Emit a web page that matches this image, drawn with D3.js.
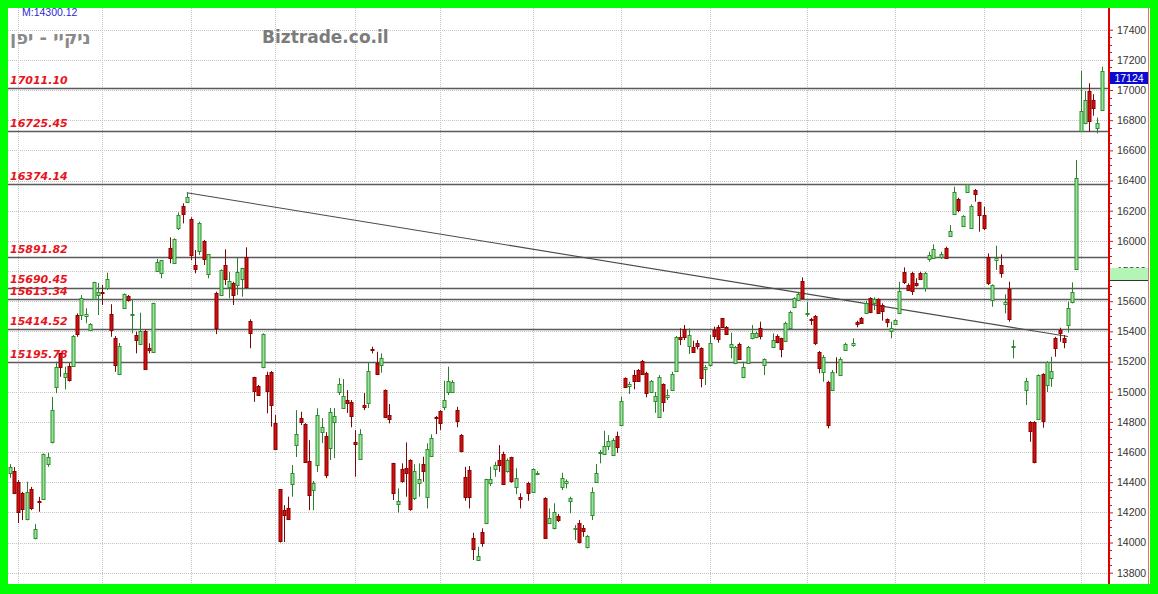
<!DOCTYPE html>
<html><head><meta charset="utf-8">
<script src="https://cdn.jsdelivr.net/npm/d3@7/dist/d3.min.js"></script>
<style>html,body{margin:0;padding:0;background:#00ff00;overflow:hidden}</style>
</head><body><svg id="c" width="1158" height="594"></svg>
<script>
const opens = [14462,14474,14403,14328,14153,14354,14027,14275,14286,14523,
14664,15029,15254,15095,15173,15173,15508,15508,15504,15409,
15612,15640,15663,15690,15516,15354,15116,15557,15634,15508,
15376,15316,15404,15288,15265,15802,15789,15870,15950,15855,
16083,16231,16260,16145,15838,15935,16001,15780,15912,15656,
15641,15840,15692,15722,15707,15749,15895,15471,15095,15040,
15162,15110,15132,14790,14352,14215,14231,14388,14647,14823,
14785,14540,14348,14514,14731,14706,14624,14801,14998,14894,
14945,14933,14664,14552,14910,14927,15283,15192,15177,15011,
14845,14525,14255,14487,14492,14547,14293,14396,14520,14300,
14573,14834,14872,14896,14998,14998,14878,14712,14436,14480,
14028,13884,14067,14127,14392,14485,14547,14587,14476,14565,
14370,14300,14288,14396,14336,14452,14458,14293,14131,14094,
14176,14366,14392,14277,14087,14127,14094,13968,14182,14403,
14591,14585,14642,14580,14708,14779,15089,15038,15110,15144,
15205,15126,14998,14940,14834,15051,14963,15011,15139,15364,
15413,15303,15294,15321,15288,15150,15177,15409,15431,15486,
15431,15298,15192,15318,15095,15192,15354,15364,15420,15177,
15216,15294,15371,15354,15338,15420,15559,15608,15736,15515,
15484,15504,15265,15132,15066,15011,15166,15110,15276,null,
15309,15460,15486,15524,15619,15590,15612,15575,15480,15400,
15447,15524,15795,15707,15789,15718,15789,15687,15880,15888,
15948,15895,15950,16034,16176,16277,16100,16326,16087,16337,
16256,16171,15895,15608,15870,15840,15579,15681,15295,15301,
14937,15011,14801,14801,14819,15115,15044,15089,15354,15409,
15358,15442,15593,15813,16728,16779,16994,16934,16750,16868];

const highs = [14520,14500,14414,14336,14403,14369,14122,14303,14591,14595,
14965,15199,15258,15166,15189,15376,15519,15641,15553,15454,
15729,15721,15707,15789,15580,15369,15323,15652,15641,15608,
15398,15524,15409,15321,15590,15880,15873,15870,16023,16017,
16189,16249,16319,16156,15939,16127,16006,15913,15912,15663,
15811,15944,15795,15729,15891,15822,15957,15480,15099,15045,
15387,15132,15137,14845,14354,14248,14304,14514,14878,14867,
14792,14679,14408,14890,14825,14732,14892,14892,15090,15084,
15011,14945,14746,14752,14991,15197,15298,15265,15254,15015,
14918,14529,14359,14525,14664,14552,14520,14525,14569,14658,
14717,14839,14878,15073,15166,15077,14900,14719,14502,14507,
14065,13972,14094,14423,14502,14535,14646,14602,14558,14569,
14492,14326,14288,14403,14492,14474,14458,14300,14226,14260,
14189,14463,14419,14304,14116,14149,14116,14050,14366,14520,
14613,14741,14712,14691,14735,14967,15095,15066,15144,15150,
15210,15132,15077,14998,15110,15055,15016,15132,15369,15420,
15442,15420,15338,15342,15294,15177,15376,15431,15442,15489,
15435,15391,15303,15325,15199,15303,15442,15398,15464,15221,
15216,15387,15380,15358,15464,15537,15626,15663,15758,15597,
15490,15508,15270,15243,15073,15144,15228,15228,15325,null,
15354,15471,15495,15603,15626,15626,15619,15586,15486,15464,
15480,15729,15824,15718,15795,15752,15795,15795,15928,15977,
15948,15928,15961,16105,16359,16286,16171,16375,16242,16344,
16260,16226,15917,15712,15968,15911,15646,15729,15342,15301,
14937,15092,14805,14805,15115,15122,15203,15232,15364,15424,
15376,15597,15725,16536,17126,16994,17045,16972,16817,17155];

const lows = [14429,14321,14129,14149,14147,14215,14021,14204,14282,14502,
14657,14990,15099,15015,15067,15166,15364,15475,15454,15404,
15608,15508,15575,15674,15364,15132,15110,15553,15597,15387,
15254,15309,15144,15254,15261,15793,15752,15870,15851,15851,
16072,16116,16257,15873,15785,15906,15840,15752,15912,15382,
15634,15707,15619,15575,15641,15630,15685,15288,14933,14975,
15155,14857,14768,14615,14000,14003,14149,14304,14567,14779,
14533,14215,14215,14467,14659,14427,14547,14560,14978,14892,
14859,14764,14436,14547,14878,14892,15254,15110,15126,14825,
14790,14282,14198,14396,14304,14211,14282,14304,14403,14226,
14569,14719,14746,14878,14978,14993,14764,14598,14277,14226,
13884,13879,13972,14122,14374,14436,14469,14381,14463,14396,
14321,14226,14288,14277,14330,14447,14458,14030,14122,14087,
14136,14348,14359,14194,14017,13994,14038,13961,14149,14401,
14525,14580,14613,14575,14595,14774,15029,14985,15016,15066,
15110,14963,14996,14860,14830,14867,14945,15006,15132,15309,
15342,15250,15258,15281,15029,15044,15166,15347,15325,15429,
15376,15221,15183,15214,15089,15188,15347,15354,15347,15110,
15216,15288,15321,15228,15331,15413,15553,15603,15614,15497,
15442,15309,15122,15066,14757,15006,15122,15104,15271,null,
15298,15427,15449,15520,15520,15541,15520,15471,15427,15354,
15442,15515,15714,15669,15641,15696,15740,15663,15862,15884,
15948,15880,15884,16028,16171,16189,16094,16322,16083,16260,
16061,16072,15707,15563,15807,15756,15520,15464,15221,15301,
14937,14912,14668,14525,14812,14761,14998,15033,15232,15331,
15288,15393,15586,15807,16724,16773,16724,16830,16713,16861];

const closes = [14502,14328,14202,14225,14337,14228,14087,14270,14589,14567,
14876,15166,15164,15127,15076,15366,15380,15619,15515,15450,
15727,15662,15655,15750,15408,15177,15300,15650,15611,15515,
15342,15403,15153,15278,15587,15859,15870,15870,15889,16010,
16174,16179,16291,15909,15814,16121,15880,15912,15912,15422,
15809,15747,15734,15642,15796,15821,15696,15392,15006,14980,
15384,15007,14915,14619,14008,14180,14155,14462,14718,14800,
14535,14313,14393,14843,14767,14450,14866,14838,15052,14971,
14923,14841,14652,14721,14898,15135,15274,15120,15224,14830,
14816,14328,14278,14411,14463,14224,14475,14423,14477,14623,
14696,14828,14792,14946,15072,15064,14809,14607,14300,14300,
13960,13910,13997,14418,14418,14516,14512,14389,14546,14405,
14429,14288,14288,14330,14485,14458,14458,14033,14163,14200,
14150,14425,14406,14298,14097,14006,14075,14042,14338,14462,
14603,14637,14671,14682,14632,14936,15033,15051,15073,15073,
15117,14993,15071,14971,15095,14933,14978,15117,15364,15347,
15364,15374,15265,15303,15089,15165,15326,15369,15347,15431,
15382,15316,15298,15218,15161,15298,15391,15387,15371,15216,
15216,15343,15329,15284,15458,15529,15619,15646,15621,15523,
15475,15320,15160,15232,14778,15131,15161,15214,15315,null,
15323,15450,15454,15590,15530,15613,15521,15535,15460,15425,
15477,15669,15728,15676,15669,15705,15749,15789,15909,15948,
15948,15912,15889,16068,16321,16206,16167,16374,16230,16311,
16174,16082,15718,15709,15884,15784,15596,15479,15301,15301,
14937,15074,14738,14533,15111,14804,15196,15139,15292,15389,
15330,15554,15658,16414,16862,16937,16792,16880,16781,17124];

// first trading day of each month (candle index) – vertical grid
const monthStarts = [2,22,43,63,82,102,124,145,166,189,210,231,254];
// horizontal support / resistance levels
const levelValues = [17011.10,16725.45,16374.14,15891.82,15690.45,15613.34,15414.52,15195.78];
const levelLabels = ["17011.10","16725.45","16374.14","15891.82","15690.45","15613.34","15414.52","15195.78"];
// y axis tick labels
const yTicks = [13800,14000,14200,14400,14600,14800,15000,15200,15400,15600,15800,16000,16200,16400,16600,16800,17000,17200,17400];
// trend line (candle index, value)
const trendIdx = [42, 251];
const trendVal = [16319, 15366];
const lastPrice = 17124;
const markerValue = 15820;
const titleText = "ניקיי - יפן";
const siteText = "Biztrade.co.il";
const minText = "M:14300.12";

const W = 1158, H = 594;
const plotL = 8, plotR = 1108, plotT = 8, plotB = 583;
const svg = d3.select("#c");

const x = d3.scaleLinear().domain([0, opens.length - 1]).range([9.7, 1101.7]);
const y = d3.scaleLinear().domain([13800, 17400]).range([572.7, 29.7]);

svg.append("rect").attr("x", 8).attr("y", 8).attr("width", 1142).attr("height", 576).attr("fill", "#fff");

// grid
const g = svg.append("g");
g.selectAll("line.h").data(yTicks).join("line")
  .attr("x1", plotL).attr("x2", plotR)
  .attr("y1", d => Math.round(y(d)) + 0.5).attr("y2", d => Math.round(y(d)) + 0.5)
  .attr("stroke", "#c4c4c4").attr("stroke-width", 1).attr("stroke-dasharray", "1,1");
g.selectAll("line.v").data(monthStarts).join("line")
  .attr("x1", d => Math.round(x(d)) + 0.5).attr("x2", d => Math.round(x(d)) + 0.5)
  .attr("y1", plotT).attr("y2", plotB)
  .attr("stroke", "#c4c4c4").attr("stroke-width", 1).attr("stroke-dasharray", "1,1");

// level lines
svg.append("g").selectAll("line").data(levelValues).join("line")
  .attr("x1", plotL).attr("x2", plotR)
  .attr("y1", d => Math.round(y(d)) + 0.5).attr("y2", d => Math.round(y(d)) + 0.5)
  .attr("stroke", "#5a5a5a").attr("stroke-width", 1.4);

// trend line
svg.append("line")
  .attr("x1", x(trendIdx[0])).attr("y1", y(trendVal[0]))
  .attr("x2", x(trendIdx[1])).attr("y2", y(trendVal[1]))
  .attr("stroke", "#4a4a4a").attr("stroke-width", 1.1);

// candles
const idx = d3.range(opens.length).filter(i => opens[i] !== null);
const cg = svg.append("g");
idx.forEach(i => {
  const o = opens[i], h = highs[i], l = lows[i], c = closes[i];
  const up = c >= o;
  const cx = Math.round(x(i));
  cg.append("line")
    .attr("x1", cx + 0.5).attr("x2", cx + 0.5)
    .attr("y1", y(h)).attr("y2", y(l))
    .attr("stroke", up ? "#2e7d2e" : "#7a0a0a").attr("stroke-width", 1);
  const top = y(Math.max(o, c)), bot = y(Math.min(o, c));
  cg.append("rect")
    .attr("x", cx - 1).attr("width", 3)
    .attr("y", Math.round(top) + 0.5).attr("height", Math.max(0, Math.round(bot) - Math.round(top)))
    .attr("fill", up ? "#98e698" : "#d01010")
    .attr("stroke", up ? "#2e8b2e" : "#8b0000").attr("stroke-width", 1);
});

// level labels
svg.append("g").selectAll("text").data(levelValues).join("text")
  .attr("x", 10).attr("y", d => y(d) - 4.5)
  .attr("fill", "#e8141c")
  .attr("font-family", "DejaVu Sans, Verdana, sans-serif")
  .attr("font-weight", "bold").attr("font-style", "italic").attr("font-size", "11px")
  .text((d, i) => levelLabels[i]);

// titles
svg.append("text").attr("x", 10).attr("y", 44).attr("text-anchor", "start")
  .attr("fill", "#8a8a8a").attr("font-family", "DejaVu Sans, sans-serif")
  .attr("font-weight", "bold").attr("font-size", "18px").text(titleText);
svg.append("text").attr("x", 262).attr("y", 43)
  .attr("fill", "#7c7c7c").attr("font-family", "DejaVu Sans, Verdana, sans-serif")
  .attr("font-weight", "bold").attr("font-size", "17px").text(siteText);
svg.append("text").attr("x", 22).attr("y", 16)
  .attr("fill", "#2a2acc").attr("font-family", "Liberation Sans, Arial, sans-serif")
  .attr("font-size", "10.5px").text(minText);

// y axis
const axis = d3.axisRight(y).tickValues(yTicks).tickSize(4).tickPadding(4).tickFormat(d3.format("d"));
const ag = svg.append("g").attr("transform", "translate(1109,0)").call(axis);
ag.select(".domain").remove();
ag.selectAll(".tick line").attr("stroke", "#e01010");
ag.selectAll(".tick text").attr("fill", "#333").attr("font-family", "Liberation Sans, Arial, sans-serif").attr("font-size", "10.5px");
// minor ticks
const minor = d3.range(13800, 17450, 50).filter(v => v % 200 !== 0);
svg.append("g").selectAll("line").data(minor).join("line")
  .attr("x1", 1109).attr("x2", 1112)
  .attr("y1", d => Math.round(y(d)) + 0.5).attr("y2", d => Math.round(y(d)) + 0.5)
  .attr("stroke", "#e01010");
svg.append("line").attr("x1", 1109).attr("x2", 1109).attr("y1", 8).attr("y2", 584)
  .attr("stroke", "#e00000").attr("stroke-width", 2);
svg.append("line").attr("x1", 1148.5).attr("x2", 1148.5).attr("y1", 8).attr("y2", 584)
  .attr("stroke", "#e07070").attr("stroke-width", 1);

// marker box (light green)
svg.append("rect").attr("x", 1110).attr("y", Math.round(y(markerValue)))
  .attr("width", 38).attr("height", 12).attr("fill", "#b4f4b4");
svg.append("line").attr("x1", 1110).attr("x2", 1148)
  .attr("y1", Math.round(y(markerValue)) + 12.5).attr("y2", Math.round(y(markerValue)) + 12.5)
  .attr("stroke", "#333").attr("stroke-width", 1);

// last price box
svg.append("rect").attr("x", 1110).attr("y", Math.round(y(lastPrice)) + 1)
  .attr("width", 38).attr("height", 12).attr("fill", "#0a0ad0");
svg.append("text").attr("x", 1129).attr("y", Math.round(y(lastPrice)) + 11)
  .attr("text-anchor", "middle").attr("fill", "#fff")
  .attr("font-family", "Liberation Sans, Arial, sans-serif").attr("font-size", "10.5px")
  .text(d3.format("d")(lastPrice));

// green frame on top
const fr = svg.append("g").attr("fill", "#00ff00");
fr.append("rect").attr("x", 0).attr("y", 0).attr("width", W).attr("height", 8);
fr.append("rect").attr("x", 0).attr("y", 584).attr("width", W).attr("height", 10);
fr.append("rect").attr("x", 0).attr("y", 0).attr("width", 8).attr("height", H);
fr.append("rect").attr("x", 1150).attr("y", 0).attr("width", 8).attr("height", H);
</script></body></html>
